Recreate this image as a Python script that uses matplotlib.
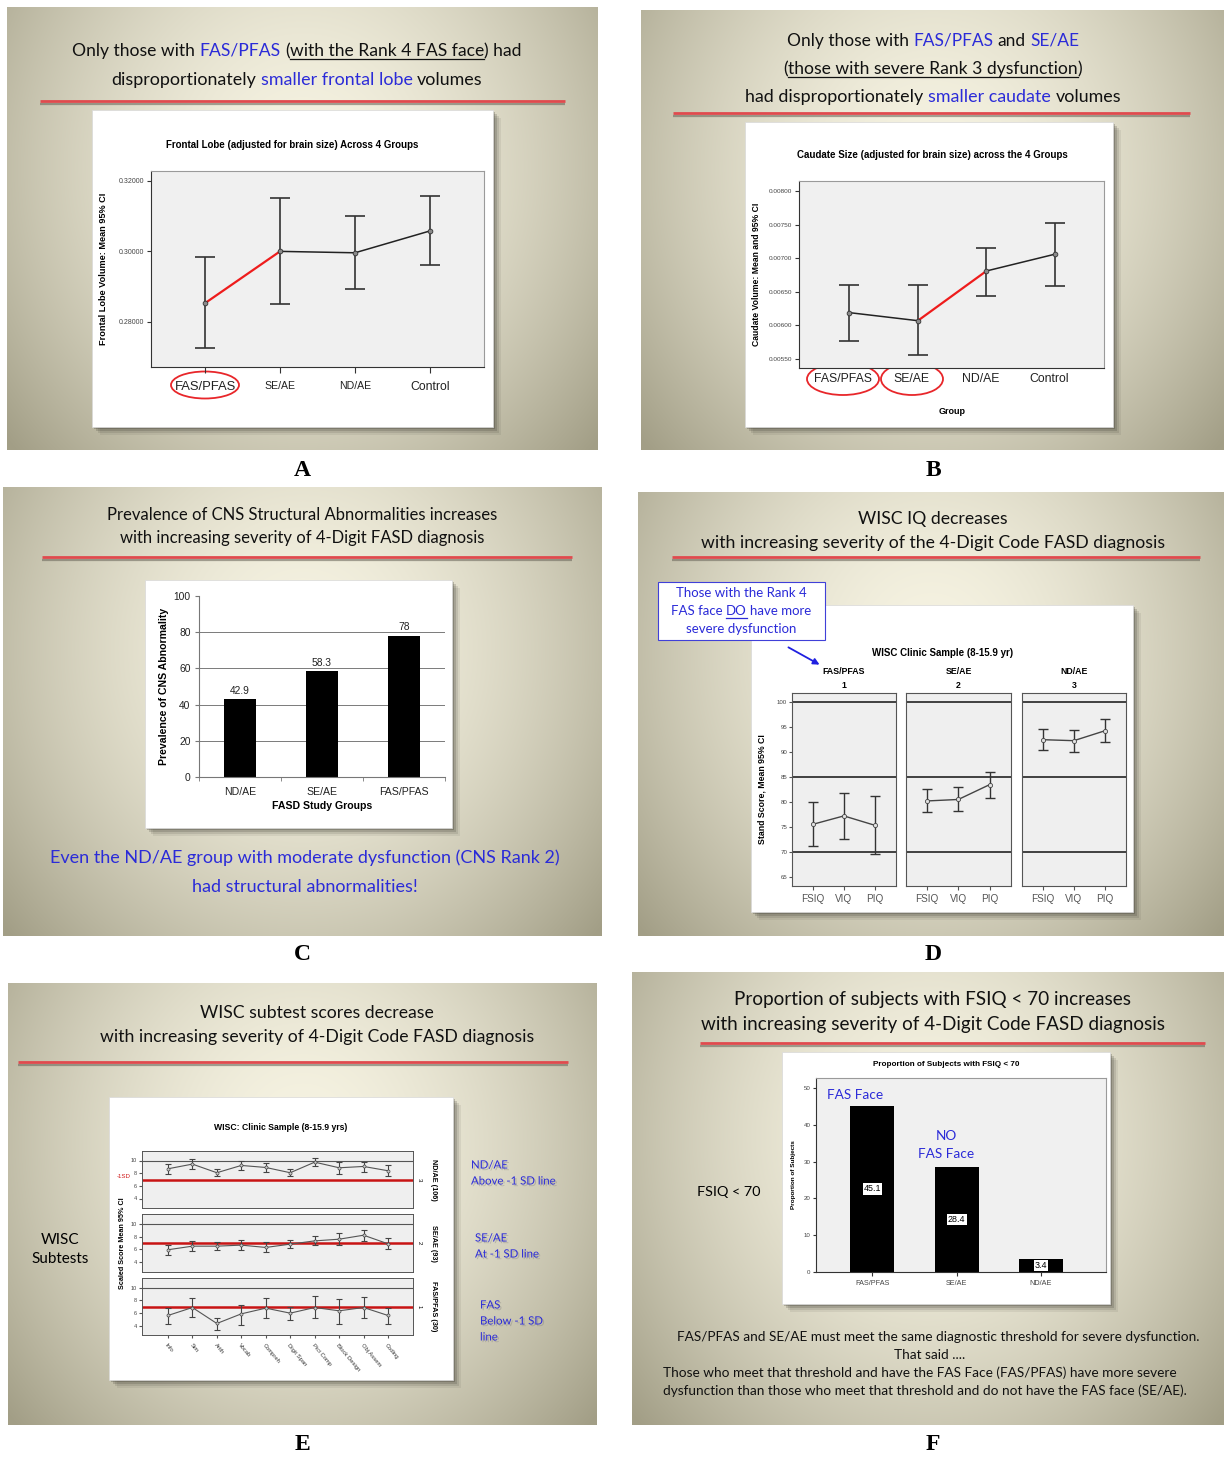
import numpy as np
import matplotlib
matplotlib.use('Agg')
import matplotlib.pyplot as plt
import matplotlib.patheffects as pe
from matplotlib.patches import Rectangle, Ellipse, FancyArrowPatch
from matplotlib.transforms import ScaledTranslation, blended_transform_factory

# ---- data ----
A_groups = ['FAS/PFAS', 'SE/AE', 'ND/AE', 'Control']
A_mean = [0.2853, 0.3000, 0.2996, 0.3058]
A_lo = [0.2726, 0.2851, 0.2893, 0.2960]
A_hi = [0.2983, 0.3150, 0.3101, 0.3156]

B_groups = ['FAS/PFAS', 'SE/AE', 'ND/AE', 'Control']
B_mean = [0.00619, 0.00607, 0.00681, 0.00706]
B_lo = [0.00577, 0.00556, 0.00644, 0.00659]
B_hi = [0.00660, 0.00660, 0.00715, 0.00752]

C_groups = ['ND/AE', 'SE/AE', 'FAS/PFAS']
C_vals = [42.9, 58.3, 78]

D_groups = ['FAS/PFAS', 'SE/AE', 'ND/AE']
D_nums = ['1', '2', '3']
D_tests = ['FSIQ', 'VIQ', 'PIQ']
D_mean = [[75.5, 77.2, 75.3], [80.2, 80.5, 83.5], [92.5, 92.3, 94.3]]
D_lo = [[71.1, 72.6, 69.5], [77.9, 78.1, 80.8], [90.4, 90.1, 92.0]]
D_hi = [[79.9, 81.8, 81.1], [82.6, 83.0, 86.1], [94.7, 94.4, 96.7]]

E_subtests = ['Info', 'Sim', 'Arith', 'Vocab', 'Compreh', 'Digit Span',
              'Pict Comp', 'Block Design', 'Obj Assem', 'Coding']
E_groups = ['ND/AE (106)', 'SE/AE (93)', 'FAS/PFAS (30)']
E_nums = ['3', '2', '1']
E_mean = [[8.69, 9.43, 8.07, 9.22, 8.90, 8.07, 9.74, 8.85, 9.06, 8.38],
          [5.95, 6.51, 6.51, 6.67, 6.31, 6.82, 7.33, 7.59, 8.21, 6.87],
          [5.58, 6.84, 4.32, 5.84, 6.74, 5.95, 6.84, 6.32, 6.84, 5.58]]
E_lo = [[7.91, 8.64, 7.55, 8.49, 8.12, 7.55, 9.11, 7.91, 8.22, 7.55],
        [5.08, 5.74, 5.85, 5.85, 5.59, 6.21, 6.62, 6.67, 7.28, 6.00],
        [4.26, 5.37, 3.32, 4.11, 5.16, 4.84, 5.11, 4.26, 5.26, 4.26]]
E_hi = [[9.43, 10.16, 8.69, 9.90, 9.53, 8.69, 10.42, 9.79, 9.84, 9.22],
        [6.72, 7.28, 7.13, 7.44, 7.08, 7.44, 8.05, 8.51, 9.08, 7.74],
        [6.79, 8.37, 5.26, 7.26, 8.37, 6.95, 8.58, 8.16, 8.53, 6.74]]

F_groups = ['FAS/PFAS', 'SE/AE', 'ND/AE']
F_vals = [45.1, 28.4, 3.4]

W, H = 1225, 1457
SF = 'Lato'              # slide text
CF = 'Liberation Sans'   # chart text
BLUE = '#2b2bd8'
RED = '#e8262a'

fig = plt.figure(figsize=(W / 100, H / 100), dpi=100)
bg = fig.add_axes([0, 0, 1, 1])
bg.axis('off')
rend = fig.canvas.get_renderer()


def px_axes(x0, y0, x1, y1):
    return fig.add_axes([x0 / W, 1 - y1 / H, (x1 - x0) / W, (y1 - y0) / H])


def slide(x0, y0, x1, y1, cy=0.36):
    h, w = int(y1 - y0), int(x1 - x0)
    yy, xx = np.mgrid[0:h, 0:w]
    dx = (xx / w - 0.5) / 0.66
    dy = (yy / h - cy) / 0.95
    d = np.clip(np.sqrt(dx ** 2 + dy ** 2), 0, 1)
    c0 = np.array([246, 243, 226]) / 255
    c1 = np.array([162, 158, 134]) / 255
    img = c0 + (c1 - c0) * d[..., None] ** 1.7
    bg.imshow(img, extent=(x0, x1, y1, y0), aspect='auto', zorder=0)


def divider(x0, x1, y):
    bg.plot([x0, x1], [y + 2.5, y + 2.5], color='#6e6a5e', lw=1.6, alpha=0.6,
            solid_capstyle='butt', zorder=2)
    bg.plot([x0, x1], [y, y], color='#e04a4e', lw=2.0, solid_capstyle='butt', zorder=3)


def card(x0, y0, x1, y1):
    for off, a in [(8, 0.08), (6, 0.12), (4, 0.18), (2, 0.25)]:
        bg.add_patch(Rectangle((x0 + off, y0 + off), x1 - x0, y1 - y0,
                               color='#2e2c24', alpha=a, lw=0, zorder=4))
    bg.add_patch(Rectangle((x0, y0), x1 - x0, y1 - y0, facecolor='white',
                           edgecolor='#d8d8d8', lw=0.5, zorder=5))


def twidth(ax, s, size, family=SF, weight='normal'):
    t = ax.text(0, 0, s, fontsize=size, family=family, weight=weight)
    w = t.get_window_extent(rend).width
    t.remove()
    return w


def rich_line(ax, xc, y, pieces, size=12, family=SF, z=10):
    # pieces: (text, color) or (text, color, underline)
    sp = twidth(ax, 'a a', size, family) - twidth(ax, 'aa', size, family)
    items = []
    total = 0
    for p in pieces:
        s, c = p[0], p[1]
        u = len(p) > 2 and p[2]
        core = s.strip(' ')
        if core:
            lead = len(s) - len(s.lstrip(' '))
            trail = len(s) - len(s.rstrip(' '))
            w = twidth(ax, core, size, family)
        else:
            lead, trail, w = len(s), 0, 0
        items.append((core, c, u, lead * sp, w, trail * sp))
        total += lead * sp + w + trail * sp
    x = xc - total / 2
    for core, c, u, l, w, t in items:
        x += l
        if core:
            ax.text(x, y, core, color=c, fontsize=size, family=family,
                    va='baseline', ha='left', zorder=z)
            if u:
                ax.plot([x, x + w], [y + 2.5, y + 2.5], color=c, lw=0.9, zorder=z)
        x += w + t


def spss_box(ax, face='#f0f0f0'):
    ax.set_facecolor(face)
    for s in ax.spines.values():
        s.set_color('#9a9a9a')
        s.set_linewidth(0.8)
    ax.spines['left'].set_color('#333333')
    ax.spines['bottom'].set_color('#333333')


K = '#111111'
TS = 12.9   # slide title size

# ================= slides =================
slide(7, 7, 598, 450)
slide(641, 10, 1224, 450)
slide(3, 487, 602, 936)
slide(638, 492, 1224, 936)
slide(8, 983, 597, 1425)
slide(632, 972, 1224, 1425)

# ---- A ----
rich_line(bg, 297, 56, [('Only those with ', K), ('FAS/PFAS', BLUE), (' ', K), ('(', K),
                        ('with the Rank 4 FAS face', K, True), (') had', K)], 12.6)
rich_line(bg, 297, 85, [('disproportionately ', K), ('smaller frontal lobe', BLUE),
                        (' volumes', K)], TS)
divider(40, 565, 101)
card(92, 110, 493, 427)
bg.text(292, 145, 'Frontal Lobe (adjusted for brain size) Across 4 Groups', family=CF,
        weight='bold', fontsize=7.0, ha='center', va='center', zorder=6)
bg.add_patch(Ellipse((205, 385), 68, 27, fill=False, edgecolor=RED, lw=1.3, zorder=6))

axA = px_axes(151, 171, 484, 367)
spss_box(axA)
x = np.arange(len(A_groups))
m = np.array(A_mean)
axA.errorbar(x, m, yerr=[m - np.array(A_lo), np.array(A_hi) - m], fmt='none',
             ecolor='#333333', elinewidth=1.2, capsize=7, capthick=1.2)
axA.plot(x[1:], m[1:], color='#222222', lw=1.1)
axA.plot(x[:2], m[:2], color='#ee1c1c', lw=1.6)
axA.plot(x, m, 'o', ms=3.4, mfc='#8a8a8a', mec='#333333', mew=0.6)
axA.set_xlim(-0.72, 3.72)
axA.set_ylim(0.2672, 0.3228)
axA.set_yticks([0.28, 0.30, 0.32])
axA.set_yticklabels([f'{v:.5f}' for v in [0.28, 0.30, 0.32]], family=CF, fontsize=5.0,
                    color='#444444')
axA.set_xticks(x)
axA.set_xticklabels(A_groups, family=CF)
for lab, sz in zip(axA.get_xticklabels(), [9.4, 7.6, 7.6, 8.8]):
    lab.set_fontsize(sz)
    lab.set_color('#222222')
axA.tick_params(axis='x', length=4, pad=6, color='#333333')
axA.tick_params(axis='y', length=3, pad=2, color='#333333')
axA.set_ylabel('Frontal Lobe Volume: Mean 95% CI', family=CF, weight='bold', fontsize=6.6)
axA.yaxis.set_label_coords(-0.13, 0.5)

# ---- B ----
rich_line(bg, 933, 46, [('Only those with ', K), ('FAS/PFAS', BLUE), (' and ', K),
                        ('SE/AE', BLUE)], 12.5)
rich_line(bg, 933, 74, [('(', K), ('those with severe Rank 3 dysfunction', K, True),
                        (')', K)], 12.6)
rich_line(bg, 933, 102, [('had disproportionately ', K), ('smaller caudate', BLUE),
                         (' volumes', K)], TS)
divider(673, 1190, 113)
card(745, 122, 1113, 427)
bg.text(932, 155, 'Caudate Size (adjusted for brain size) across the 4 Groups', family=CF,
        weight='bold', fontsize=7.0, ha='center', va='center', zorder=6)
bg.text(952, 412, 'Group', family=CF, weight='bold', fontsize=6.5, ha='center',
        va='center', zorder=6)
bg.add_patch(Ellipse((843, 379), 72, 32, fill=False, edgecolor=RED, lw=1.3, zorder=6))
bg.add_patch(Ellipse((912, 379), 62, 32, fill=False, edgecolor=RED, lw=1.3, zorder=6))

axB = px_axes(799, 181, 1104, 368)
spss_box(axB)
m = np.array(B_mean)
axB.errorbar(x, m, yerr=[m - np.array(B_lo), np.array(B_hi) - m], fmt='none',
             ecolor='#333333', elinewidth=1.2, capsize=7, capthick=1.2)
axB.plot(x[:2], m[:2], color='#222222', lw=1.1)
axB.plot(x[2:], m[2:], color='#222222', lw=1.1)
axB.plot(x[1:3], m[1:3], color='#ee1c1c', lw=1.6)
axB.plot(x, m, 'o', ms=3.4, mfc='#8a8a8a', mec='#333333', mew=0.6)
axB.set_xlim(-0.734, 3.715)
axB.set_ylim(0.005366, 0.008149)
bt = np.arange(0.0055, 0.00801, 0.0005)
axB.set_yticks(bt)
axB.set_yticklabels([f'{v:.5f}' for v in bt], family=CF, fontsize=4.6, color='#444444')
axB.set_xticks(x)
axB.set_xticklabels([])
axB.tick_params(axis='x', length=0)
# category labels sit a little left of the points in the original chart
tr = blended_transform_factory(axB.transData, axB.transAxes) + \
    ScaledTranslation(-6 / 100, 0, fig.dpi_scale_trans)
for xi, g in zip(x, B_groups):
    axB.text(xi, -0.058, g, transform=tr, family=CF, fontsize=8.8, color='#222222',
             ha='center', va='center', clip_on=False)
axB.tick_params(axis='y', length=3, pad=2, color='#333333')
axB.set_ylabel('Caudate Volume: Mean and 95% CI', family=CF, weight='bold', fontsize=6.2)
axB.yaxis.set_label_coords(-0.125, 0.5)

# ---- C ----
rich_line(bg, 302, 520, [('Prevalence of CNS Structural Abnormalities increases', K)], 12.0)
rich_line(bg, 302, 543, [('with increasing severity of 4-Digit FASD diagnosis', K)], 12.0)
divider(42, 572, 557)
card(145, 580, 452, 828)
axC = px_axes(199, 596, 445, 777)
axC.set_facecolor('white')
xc = np.arange(len(C_groups))
for v in [20, 40, 60, 80]:
    axC.axhline(v, color='#7a7a7a', lw=0.7, zorder=1)
axC.bar(xc, C_vals, width=0.39, color='black', zorder=2)
for xi, v in zip(xc, C_vals):
    axC.text(xi, v + 2, f'{v:g}', ha='center', va='bottom', family=CF, fontsize=7.4,
             color='#222222')
axC.set_xlim(-0.5, 2.5)
axC.set_ylim(0, 100)
axC.spines['top'].set_visible(False)
axC.spines['right'].set_visible(False)
axC.spines['left'].set_color('#777777')
axC.spines['bottom'].set_color('#777777')
axC.set_yticks(range(0, 101, 20))
axC.set_yticklabels([str(v) for v in range(0, 101, 20)], family=CF, fontsize=7.4,
                    color='#222222')
axC.set_xticks(xc)
axC.set_xticklabels(C_groups, family=CF, fontsize=7.6, color='#222222')
axC.set_xticks([-0.5, 0.5, 1.5, 2.5], minor=True)
axC.tick_params(axis='x', which='major', length=0, pad=7)
axC.tick_params(axis='x', which='minor', length=3, color='#777777')
axC.tick_params(axis='y', length=3, color='#777777', pad=3)
axC.set_xlabel('FASD Study Groups', family=CF, weight='bold', fontsize=7.6, labelpad=3)
axC.set_ylabel('Prevalence of CNS Abnormality', family=CF, weight='bold', fontsize=7.6,
               labelpad=3)
rich_line(bg, 305, 863, [('Even the ND/AE group with moderate dysfunction (CNS Rank 2)', BLUE)],
          13.0)
rich_line(bg, 305, 892, [('had structural abnormalities!', BLUE)], 13.0)

# ---- D ----
rich_line(bg, 933, 524, [('WISC IQ decreases', K)], 12.7)
rich_line(bg, 933, 548, [('with increasing severity of the 4-Digit Code FASD diagnosis', K)],
          12.7)
divider(672, 1200, 557)
card(751, 605, 1133, 912)
bg.text(943, 653, 'WISC Clinic Sample (8-15.9 yr)', family=CF, weight='bold', fontsize=7.0,
        ha='center', va='center', zorder=6)
d_boxes = [(792, 896), (906, 1011), (1022, 1126)]
xd = np.arange(len(D_tests))
for i, (x0, x1) in enumerate(d_boxes):
    ax = px_axes(x0, 693, x1, 886)
    ax.set_facecolor('#efefef')
    for s in ax.spines.values():
        s.set_color('#555555')
        s.set_linewidth(0.8)
    for v in [100, 85, 70]:
        ax.axhline(v, color='#333333', lw=1.3, zorder=1)
    m = np.array(D_mean[i])
    ax.errorbar(xd, m, yerr=[m - np.array(D_lo[i]), np.array(D_hi[i]) - m], fmt='none',
                ecolor='#333333', elinewidth=1.0, capsize=3.5, capthick=1.0, zorder=2)
    ax.plot(xd, m, color='#444444', lw=1.0, zorder=3)
    ax.plot(xd, m, 'o', ms=3, mfc='#e0e0e0', mec='#444444', mew=0.6, zorder=4)
    ax.set_xlim(-0.66, 2.67)
    ax.set_ylim(63.13, 101.87)
    ax.set_xticks(xd)
    ax.set_xticklabels(D_tests, family=CF, fontsize=7.2, color='#555555')
    ax.tick_params(axis='x', length=3, pad=3, color='#555555')
    if i == 0:
        ax.set_yticks(range(65, 101, 5))
        ax.set_yticklabels([str(v) for v in range(65, 101, 5)], family=CF, fontsize=4.4,
                           color='#444444')
        ax.tick_params(axis='y', length=2, pad=1.5, color='#555555')
        ax.set_ylabel('Stand Score, Mean 95% CI', family=CF, weight='bold', fontsize=6.3)
        ax.yaxis.set_label_coords(-0.25, 0.5)
    else:
        ax.set_yticks([])
    xm = (x0 + x1) / 2
    bg.text(xm, 672, D_groups[i], family=CF, weight='bold', fontsize=6.3, ha='center',
            va='center', zorder=6)
    bg.text(xm, 686, D_nums[i], family=CF, weight='bold', fontsize=6.3, ha='center',
            va='center', zorder=6)

bg.add_patch(Rectangle((658, 582), 167, 58, facecolor='white', edgecolor='#4040d8', lw=0.8,
                       zorder=7))
rich_line(bg, 741, 597, [('Those with the Rank 4', BLUE)], 9.5, z=8)
rich_line(bg, 741, 615, [('FAS face ', BLUE), ('DO', BLUE, True), (' have more', BLUE)], 9.5, z=8)
rich_line(bg, 741, 633, [('severe dysfunction', BLUE)], 9.5, z=8)
bg.add_patch(FancyArrowPatch((786, 646), (822, 666), arrowstyle='-|>', mutation_scale=9,
                             color='#2020e0', lw=1.3, zorder=8))

# ---- E ----
rich_line(bg, 317, 1018, [('WISC subtest scores decrease', K)], 12.7)
rich_line(bg, 317, 1042, [('with increasing severity of 4-Digit Code FASD diagnosis', K)], 12.7)
divider(18, 568, 1062)
card(109, 1097, 453, 1380)
bg.text(281, 1128, 'WISC: Clinic Sample (8-15.9 yrs)', family=CF, weight='bold',
        fontsize=6.2, ha='center', va='center', zorder=6)
bg.text(122, 1243, 'Scaled Score Mean 95% CI', family=CF, weight='bold', fontsize=5.2,
        rotation=90, ha='center', va='center', zorder=6)
e_rows = [(1151, 1208), (1214, 1272), (1278, 1335)]
xe = np.arange(len(E_subtests))
for i, (y0, y1) in enumerate(e_rows):
    ax = px_axes(142, y0, 413, y1)
    ax.set_facecolor('#efefef')
    for s in ax.spines.values():
        s.set_color('#555555')
        s.set_linewidth(0.7)
    ax.axhline(10, color='#555555', lw=0.8, zorder=1)
    ax.axhline(7, color='#c81414', lw=1.8, zorder=2)
    m = np.array(E_mean[i])
    ax.errorbar(xe, m, yerr=[m - np.array(E_lo[i]), np.array(E_hi[i]) - m], fmt='none',
                ecolor='#444444', elinewidth=0.8, capsize=2.5, capthick=0.8, zorder=3)
    ax.plot(xe, m, color='#555555', lw=0.8, zorder=3)
    ax.plot(xe, m, 'o', ms=2.2, mfc='#cccccc', mec='#444444', mew=0.5, zorder=4)
    ax.set_xlim(-1.06, 10.02)
    ax.set_ylim(2.5, 11.5)
    ax.set_yticks([4, 6, 8, 10])
    ax.set_yticklabels(['4', '6', '8', '10'], family=CF, fontsize=4.0, color='#444444')
    ax.tick_params(axis='y', length=2, pad=1.5, color='#555555')
    ax.set_xticks(xe)
    if i == 2:
        ax.set_xticklabels(E_subtests, family=CF, fontsize=4.2, color='#333333',
                           rotation=-50, ha='left', rotation_mode='anchor')
        ax.tick_params(axis='x', length=2.5, pad=3, color='#555555')
    else:
        ax.set_xticklabels([])
        ax.tick_params(axis='x', length=0)
    ym = (y0 + y1) / 2
    bg.text(434, ym, E_groups[i], family=CF, weight='bold', fontsize=5.2, rotation=-90,
            ha='center', va='center', zorder=6)
    bg.text(419, ym, E_nums[i], family=CF, fontsize=4.4, rotation=-90, ha='center',
            va='center', zorder=6)
bg.text(124, 1177, '-1SD', family=CF, fontsize=4.4, color='#d01818', ha='center',
        va='center', zorder=6)
sh = [pe.withSimplePatchShadow(offset=(1.2, -1.2), shadow_rgbFace='#777777', alpha=0.35)]
for s, yy, xx in [('ND/AE', 1165, 471), ('Above -1 SD line', 1181, 471),
                  ('SE/AE', 1238, 475), ('At -1 SD line', 1254, 475),
                  ('FAS', 1305, 480), ('Below -1 SD', 1321, 480), ('line', 1337, 480)]:
    bg.text(xx, yy, s, family=SF, fontsize=8.2, color=BLUE, ha='left', va='center',
            zorder=6, path_effects=sh)
bg.text(60, 1240, 'WISC', family=SF, fontsize=11.0, ha='center', va='center', zorder=6)
bg.text(60, 1259, 'Subtests', family=SF, fontsize=11.0, ha='center', va='center', zorder=6)

# ---- F ----
rich_line(bg, 933, 1005, [('Proportion of subjects with FSIQ < 70 increases', K)], 13.6)
rich_line(bg, 933, 1030, [('with increasing severity of 4-Digit Code FASD diagnosis', K)], 13.6)
divider(700, 1205, 1043)
card(782, 1052, 1110, 1304)
bg.text(946, 1065, 'Proportion of Subjects with FSIQ < 70', family=CF, weight='bold',
        fontsize=5.9, ha='center', va='center', zorder=6)
axF = px_axes(816, 1078, 1106, 1272)
spss_box(axF)
xf = np.arange(len(F_groups))
axF.bar(xf, F_vals, width=0.52, color='black', zorder=2)
for xi, v in zip(xf, F_vals):
    axF.text(xi, v / 2, f'{v:.1f}', ha='center', va='center', family=CF, fontsize=6.4,
             color='black', zorder=3,
             bbox=dict(boxstyle='square,pad=0.12', facecolor='white', edgecolor='none'))
axF.set_xlim(-0.668, 2.77)
axF.set_ylim(0, 52.7)
axF.set_yticks(range(0, 51, 10))
axF.set_yticklabels([str(v) for v in range(0, 51, 10)], family=CF, fontsize=4.4,
                    color='#444444')
axF.set_xticks(xf)
axF.set_xticklabels(F_groups, family=CF, fontsize=5.2, color='#444444')
axF.tick_params(axis='x', length=3, pad=2.5, color='#333333')
axF.tick_params(axis='y', length=2.5, pad=1.5, color='#333333')
axF.set_ylabel('Proportion of Subjects', family=CF, weight='bold', fontsize=4.6)
axF.yaxis.set_label_coords(-0.07, 0.5)

bg.text(729, 1192, 'FSIQ < 70', family=SF, fontsize=10.4, ha='center', va='center', zorder=6)
rich_line(bg, 938, 1341, [('FAS/PFAS and SE/AE must meet the same diagnostic threshold for severe dysfunction.', K)], 9.8)
rich_line(bg, 930, 1359, [('That said ....', K)], 9.8)
for s, yy in [('Those who meet that threshold and have the FAS Face (FAS/PFAS) have more severe', 1377),
              ('dysfunction than those who meet that threshold and do not have the FAS face (SE/AE).', 1395)]:
    bg.text(663, yy, s, family=SF, fontsize=9.8, color=K, ha='left', va='baseline', zorder=6)

# panel letters
for s, xx, yy in [('A', 302, 470), ('B', 933, 470), ('C', 302, 955), ('D', 933, 955),
                  ('E', 302, 1445), ('F', 933, 1445)]:
    bg.text(xx, yy, s, family='Liberation Serif', weight='bold', fontsize=17, ha='center',
            va='center')

bg.set_xlim(0, W)
bg.set_ylim(H, 0)

# overlay for labels that sit on top of the chart areas
top = fig.add_axes([0, 0, 1, 1])
top.axis('off')
top.patch.set_alpha(0)
top.set_xlim(0, W)
top.set_ylim(H, 0)
top.text(855, 1095, 'FAS Face', family=SF, fontsize=9.8, color=BLUE, ha='center', va='center')
top.text(946, 1136, 'NO', family=SF, fontsize=9.8, color=BLUE, ha='center', va='center')
top.text(946, 1154, 'FAS Face', family=SF, fontsize=9.8, color=BLUE, ha='center', va='center')

fig.savefig('out.png', dpi=100, facecolor='white')
